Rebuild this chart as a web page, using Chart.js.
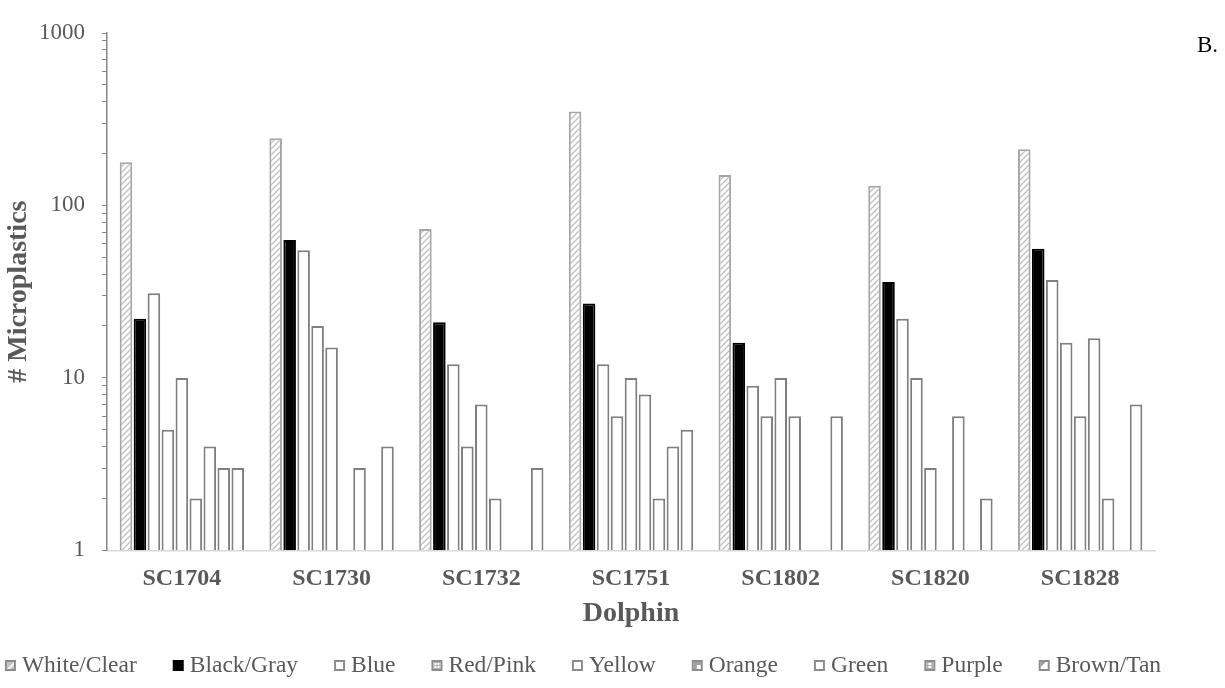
<!DOCTYPE html>
<html>
<head>
<meta charset="utf-8">
<script src="https://cdn.jsdelivr.net/npm/chart.js@4.4.1/dist/chart.umd.min.js"></script>
<style>
  html, body { margin: 0; padding: 0; background: #fff; }
  #wrap { width: 1225px; height: 688px; position: relative; }
</style>
</head>
<body>
<div id="wrap"><canvas id="grafico"></canvas></div>
<script>
// Datos (conteos por delfín y color)
const delfines = ['SC1704', 'SC1730', 'SC1732', 'SC1751', 'SC1802', 'SC1820', 'SC1828'];
const blancoClaro = [178, 245, 73, 350, 150, 130, 212];
const negroGris   = [22, 63, 21, 27, 16, 36, 56];
const azul        = [31, 55, 12, 12, 9, 22, 37];
const rojoRosa    = [5, 20, 4, 6, 6, 10, 16];
const amarillo    = [10, 15, 7, 10, 10, 3, 6];
const naranja     = [2, null, 2, 8, 6, null, 17];
const verde       = [4, 3, null, 2, null, 6, 2];
const morado      = [3, null, null, 4, null, null, null];
const marronTan   = [3, 4, 3, 5, 6, 2, 7];
const ticksY      = [1, 2, 3, 4, 5, 6, 7, 8, 9, 10, 20, 30, 40, 50, 60, 70, 80, 90, 100, 200, 300, 400, 500, 600, 700, 800, 900, 1000];

const gris = '#7f7f7f';
const fuente = "'Liberation Serif', 'Times New Roman', serif";

// patrón rayado para White/Clear
function crearRayado() {
  const c = document.createElement('canvas');
  c.width = 6; c.height = 6;
  const g = c.getContext('2d');
  g.fillStyle = '#ffffff';
  g.fillRect(0, 0, 6, 6);
  g.strokeStyle = '#bfbfbf';
  g.lineWidth = 1.3;
  g.beginPath();
  g.moveTo(0, 6); g.lineTo(6, 0);
  g.moveTo(-1, 1); g.lineTo(1, -1);
  g.moveTo(5, 7); g.lineTo(7, 5);
  g.stroke();
  return g.createPattern(c, 'repeat');
}
const rayado = crearRayado();

// iconos de la leyenda (11x11)
function icono(g, tipo, x, y) {
  g.save();
  g.translate(x, y);
  if (tipo === 'negro') {
    g.fillStyle = '#000';
    g.fillRect(0, 0, 11, 11);
    g.restore();
    return;
  }
  g.fillStyle = '#8c8c8c';
  g.fillRect(0, 0, 11, 11);
  g.fillStyle = '#fff';
  g.fillRect(2, 2, 7, 7);
  if (tipo === 'rayado') {
    g.fillStyle = '#c4c4c4';
    g.fillRect(2, 2, 7, 7);
    g.fillStyle = '#f2f2f2';
    g.beginPath(); g.moveTo(2, 9); g.lineTo(9, 2); g.lineTo(9, 5); g.lineTo(5, 9); g.fill();
  } else if (tipo === 'puntos') {
    g.fillStyle = '#b0b0b0';
    g.fillRect(2, 2, 7, 7);
    g.fillStyle = '#fff';
    [[3, 3], [6, 3], [3, 6], [6, 6]].forEach(p => g.fillRect(p[0], p[1], 2, 2));
  } else if (tipo === 'esquina') {
    g.fillStyle = '#a0a0a0';
    g.fillRect(2, 2, 7, 7);
    g.fillStyle = '#fff';
    g.fillRect(5, 5, 4, 4);
  } else if (tipo === 'morado') {
    g.fillStyle = '#b0b0b0';
    g.fillRect(2, 2, 7, 7);
    g.fillStyle = '#fff';
    g.fillRect(4, 3, 3, 2);
    g.fillRect(4, 6, 3, 2);
  } else if (tipo === 'diagonal') {
    g.fillStyle = '#a0a0a0';
    g.beginPath(); g.moveTo(2, 2); g.lineTo(7, 2); g.lineTo(2, 7); g.fill();
  }
  g.restore();
}
const tiposIcono = ['rayado', 'negro', 'hueco', 'puntos', 'hueco', 'esquina', 'hueco', 'morado', 'diagonal'];

function serie(label, data, fondo, borde) {
  return {
    label: label,
    data: data,
    backgroundColor: fondo,
    borderColor: borde,
    borderWidth: 2,
    categoryPercentage: 0.84,
    barPercentage: 0.9
  };
}

// Leyenda en una fila, centrada bajo el gráfico, y la etiqueta "B."
const leyendaFila = {
  id: 'leyendaFila',
  afterDraw(chart) {
    const ctx = chart.ctx;
    ctx.save();
    ctx.font = '23.5px ' + fuente;
    ctx.fillStyle = '#595959';
    ctx.textBaseline = 'middle';
    ctx.textAlign = 'left';
    const etiquetas = chart.data.datasets.map(d => d.label);
    const anchos = etiquetas.map(t => ctx.measureText(t).width);
    const paso = 17, hueco = 36;
    const total = anchos.reduce((a, b) => a + b, 0) + etiquetas.length * paso + (etiquetas.length - 1) * hueco;
    let x = 583 - total / 2;
    const y = 666;
    etiquetas.forEach((t, i) => {
      icono(ctx, tiposIcono[i], x, y - 6);
      ctx.fillStyle = '#595959';
      ctx.fillText(t, x + paso, y);
      x += paso + anchos[i] + hueco;
    });

    ctx.font = '23px ' + fuente;
    ctx.fillStyle = '#000';
    ctx.fillText('B.', 1197, 46);
    ctx.restore();
  }
};

new Chart(document.getElementById('grafico').getContext('2d'), {
  type: 'bar',
  data: {
    labels: delfines,
    datasets: [
      serie('White/Clear', blancoClaro, rayado, '#a6a6a6'),
      serie('Black/Gray', negroGris, '#000000', '#000000'),
      serie('Blue', azul, '#ffffff', gris),
      serie('Red/Pink', rojoRosa, '#ffffff', gris),
      serie('Yellow', amarillo, '#ffffff', gris),
      serie('Orange', naranja, '#ffffff', gris),
      serie('Green', verde, '#ffffff', gris),
      serie('Purple', morado, '#ffffff', gris),
      serie('Brown/Tan', marronTan, '#ffffff', gris)
    ]
  },
  options: {
    responsive: true,
    maintainAspectRatio: false,
    animation: false,
    layout: { padding: { top: 33, left: 2, right: 2, bottom: 66 } },
    plugins: {
      tooltip: { enabled: false },
      legend: { display: false }
    },
    scales: {
      x: {
        grid: { display: false, drawTicks: false },
        border: { color: '#d9d9d9', width: 1.5 },
        ticks: { font: { family: fuente, size: 24, weight: 'bold', lineHeight: 1.0 }, color: '#595959', padding: 16 },
        title: {
          display: true,
          text: 'Dolphin',
          font: { family: fuente, size: 28, weight: 'bold', lineHeight: 0.56 },
          color: '#595959',
          padding: { top: 0, bottom: 0 }
        }
      },
      y: {
        type: 'logarithmic',
        min: 1,
        max: 1000,
        afterBuildTicks(scale) {
          scale.ticks = ticksY.map(v => ({ value: v }));
        },
        afterFit(scale) { scale.width = 105; },
        grid: { drawOnChartArea: false, drawTicks: true, tickLength: 5, color: '#868686' },
        border: { color: '#868686', width: 1.5 },
        ticks: {
          font: { family: fuente, size: 23 },
          color: '#595959',
          padding: 17,
          autoSkip: false,
          callback: function(v) {
            return [1, 10, 100, 1000].includes(v) ? String(v) : '';
          }
        },
        title: {
          display: true,
          text: '# Microplastics',
          font: { family: fuente, size: 28, weight: 'bold' },
          color: '#595959',
          padding: { top: 0, bottom: 0 }
        }
      },
      // eje vacío a la derecha para reservar el margen de "B."
      margen: {
        type: 'linear',
        position: 'right',
        display: true,
        grid: { display: false },
        border: { display: false },
        ticks: { display: false },
        afterFit(scale) { scale.width = 68; }
      }
    }
  },
  plugins: [leyendaFila]
});
</script>
</body>
</html>
